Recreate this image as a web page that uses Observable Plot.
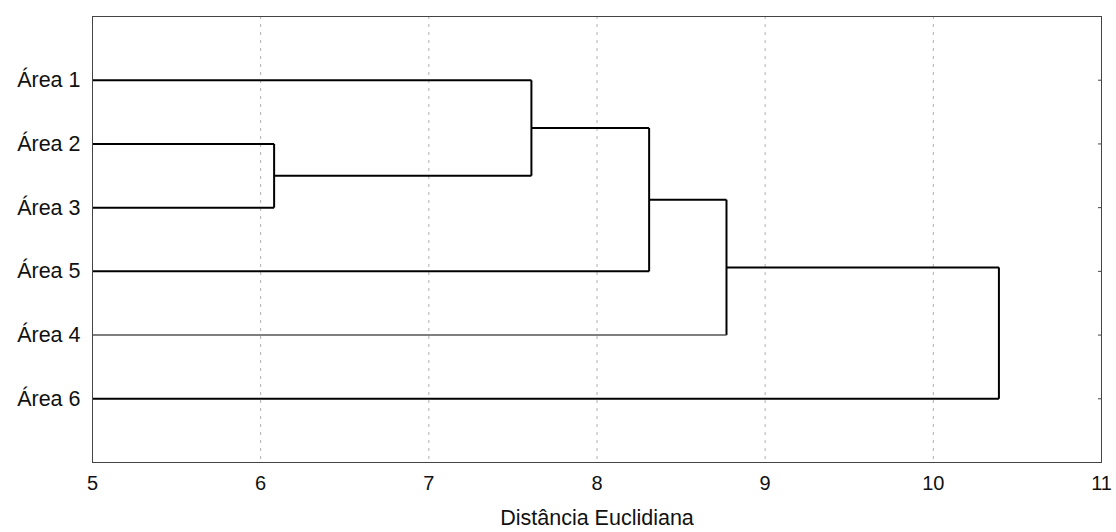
<!DOCTYPE html>
<html>
<head>
<meta charset="utf-8">
<script src="https://cdn.jsdelivr.net/npm/d3@7"></script>
<script src="https://cdn.jsdelivr.net/npm/@observablehq/plot@0.6"></script>
<style>
  html, body { margin: 0; padding: 0; background: #fff; }
  #chart { width: 1116px; height: 532px; }
  #chart svg g[aria-label="y-axis tick label"] text { font-size: 21.5px; }
  #chart svg g[aria-label="x-axis tick label"] text { font-size: 20px; }
  #chart svg g[aria-label="x-axis label"] text { font-size: 21.5px; }
</style>
</head>
<body>
<div id="chart"></div>
<script>
// Leaf order (top to bottom)
const leaves = ["Área 1", "Área 2", "Área 3", "Área 5", "Área 4", "Área 6"];
// Agglomeration steps: cluster joins A and B at height
const mergeA = ["Área 2", "C1", "C2", "C3", "C4"];
const mergeB = ["Área 3", "Área 1", "Área 5", "Área 4", "Área 6"];
const mergeHeight = [6.08, 7.61, 8.31, 8.77, 10.39];
const mergeName = ["C1", "C2", "C3", "C4", "C5"];
const xTicks = [5, 6, 7, 8, 9, 10, 11];
const gridTicks = [6, 7, 8, 9, 10];
const baseHeight = 5;

// Build node positions
const nodes = new Map();
leaves.forEach((name, i) => nodes.set(name, {y: i + 1, h: baseHeight, leaf: true}));
const segments = [];
mergeName.forEach((name, i) => {
  const a = nodes.get(mergeA[i]);
  const b = nodes.get(mergeB[i]);
  const h = mergeHeight[i];
  segments.push({x1: a.h, y1: a.y, x2: h, y2: a.y, thin: mergeA[i] === "Área 4"});
  segments.push({x1: b.h, y1: b.y, x2: h, y2: b.y, thin: mergeB[i] === "Área 4"});
  segments.push({x1: h, y1: a.y, x2: h, y2: b.y, thin: false});
  nodes.set(name, {y: (a.y + b.y) / 2, h, leaf: false});
});

const leafPos = leaves.map((d, i) => i + 1);

const chart = Plot.plot({
  width: 1116,
  height: 532,
  marginLeft: 92,
  marginRight: 15,
  marginTop: 16,
  marginBottom: 70,
  style: {fontFamily: "'Liberation Sans', Arial, sans-serif", fontSize: "20px", color: "#111", background: "#fff"},
  x: {domain: [5, 11]},
  y: {domain: [0, 7], reverse: true},
  marks: [
    Plot.ruleX(gridTicks, {stroke: "#b0b0b0", strokeDasharray: "3,5", strokeWidth: 1}),
    Plot.axisX({ticks: xTicks, tickFormat: d3.format("d"), tickSize: 0, tickPadding: 13, label: "Distância Euclidiana", labelAnchor: "center", labelOffset: 62, labelArrow: "none"}),
    Plot.axisY({ticks: leafPos, tickFormat: d => leaves[d - 1], tickSize: 0, tickPadding: 12, label: null}),
    Plot.axisY({anchor: "right", ticks: leafPos, tickSize: 4, dx: -4, tickFormat: () => "", label: null, stroke: "#444"}),
    Plot.link(segments.filter(d => !d.thin), {x1: "x1", y1: "y1", x2: "x2", y2: "y2", stroke: "#000", strokeWidth: 2}),
    Plot.link(segments.filter(d => d.thin), {x1: "x1", y1: "y1", x2: "x2", y2: "y2", stroke: "#555", strokeWidth: 1.5}),
    Plot.frame({stroke: "#444", strokeWidth: 1})
  ]
});
document.getElementById("chart").appendChild(chart);
</script>
</body>
</html>
